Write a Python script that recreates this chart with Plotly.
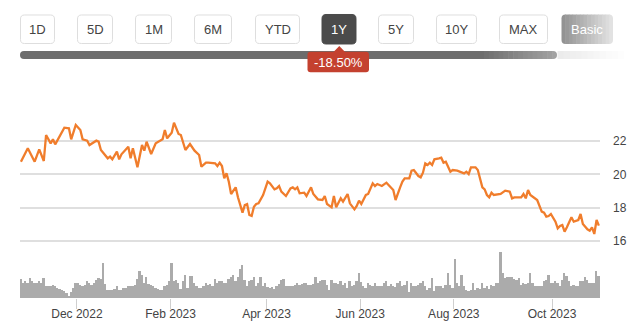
import plotly.graph_objects as go
import pandas as pd

# ---------------------------------------------------------------------------
# Data
# ---------------------------------------------------------------------------
# Closing prices (USD) at the turning points of the past year
price_dates = [
    "2022-10-26", "2022-10-31", "2022-11-03", "2022-11-07", "2022-11-09", "2022-11-10",
    "2022-11-14", "2022-11-15", "2022-11-16", "2022-11-18", "2022-11-22", "2022-11-25",
    "2022-11-28", "2022-11-30", "2022-12-02", "2022-12-05", "2022-12-07", "2022-12-08",
    "2022-12-13", "2022-12-14", "2022-12-15", "2022-12-20", "2022-12-21", "2022-12-22",
    "2022-12-27", "2022-12-28", "2022-12-29", "2023-01-04", "2023-01-05", "2023-01-06",
    "2023-01-10", "2023-01-12", "2023-01-13", "2023-01-17", "2023-01-19", "2023-01-23",
    "2023-01-26", "2023-01-27", "2023-01-30", "2023-02-01", "2023-02-02", "2023-02-06",
    "2023-02-07", "2023-02-09", "2023-02-13", "2023-02-15", "2023-02-17", "2023-02-21",
    "2023-02-23", "2023-02-24", "2023-03-01", "2023-03-02", "2023-03-03", "2023-03-06",
    "2023-03-07", "2023-03-08", "2023-03-09", "2023-03-10", "2023-03-13", "2023-03-14",
    "2023-03-15", "2023-03-16", "2023-03-17", "2023-03-20", "2023-03-21", "2023-03-22",
    "2023-03-23", "2023-03-24", "2023-03-27", "2023-03-28", "2023-03-30", "2023-04-03",
    "2023-04-04", "2023-04-06", "2023-04-10", "2023-04-11", "2023-04-12", "2023-04-14",
    "2023-04-18", "2023-04-19", "2023-04-20", "2023-04-21", "2023-04-24", "2023-04-26",
    "2023-04-27", "2023-05-01", "2023-05-02", "2023-05-04", "2023-05-08", "2023-05-09",
    "2023-05-10", "2023-05-12", "2023-05-15", "2023-05-16", "2023-05-18", "2023-05-19",
    "2023-05-23", "2023-05-24", "2023-05-26", "2023-05-30", "2023-05-31", "2023-06-01",
    "2023-06-05", "2023-06-06", "2023-06-08", "2023-06-09", "2023-06-12", "2023-06-14",
    "2023-06-16", "2023-06-22", "2023-06-23", "2023-06-27", "2023-06-28", "2023-06-29",
    "2023-07-03", "2023-07-05", "2023-07-06", "2023-07-10", "2023-07-11", "2023-07-12",
    "2023-07-13", "2023-07-14", "2023-07-17", "2023-07-18", "2023-07-19", "2023-07-21",
    "2023-07-24", "2023-07-25", "2023-07-26", "2023-07-28", "2023-07-31", "2023-08-02",
    "2023-08-03", "2023-08-07", "2023-08-08", "2023-08-09", "2023-08-10", "2023-08-14",
    "2023-08-15", "2023-08-16", "2023-08-17", "2023-08-18", "2023-08-21", "2023-08-22",
    "2023-08-23", "2023-08-24", "2023-08-29", "2023-08-31", "2023-09-05", "2023-09-06",
    "2023-09-07", "2023-09-12", "2023-09-13", "2023-09-14", "2023-09-15", "2023-09-18",
    "2023-09-20", "2023-09-21", "2023-09-25", "2023-09-26", "2023-09-27", "2023-09-28",
    "2023-09-29", "2023-10-03", "2023-10-04", "2023-10-05", "2023-10-06", "2023-10-09",
    "2023-10-10", "2023-10-12", "2023-10-13", "2023-10-17", "2023-10-18", "2023-10-19",
    "2023-10-23", "2023-10-24", "2023-10-25", "2023-10-26", "2023-10-27", "2023-10-30",
]
price_values = [
    20.76, 21.56, 20.76, 21.50, 20.80, 22.36,
    21.86, 22.10, 21.80, 22.26, 22.80, 22.76,
    22.10, 22.96, 22.66, 22.10, 22.02, 21.76,
    22.02, 21.96, 21.46, 20.96, 21.06, 20.90,
    21.36, 20.90, 21.20, 21.66, 20.96, 21.56,
    20.42, 21.76, 21.42, 21.96, 21.22, 21.86,
    22.10, 22.66, 22.16, 22.50, 23.10, 22.42,
    22.36, 21.46, 21.82, 21.42, 21.16, 20.46,
    20.70, 20.70, 20.66, 20.50, 20.70, 20.50,
    19.76, 20.06, 19.56, 18.82, 19.06, 19.22,
    18.62, 18.16, 17.70, 18.16, 18.22, 17.56,
    17.50, 18.06, 18.22, 18.26, 18.76, 19.56,
    19.46, 19.10, 19.16, 19.30, 18.96, 18.70,
    19.16, 19.22, 19.10, 19.22, 18.86, 18.90,
    18.70, 19.22, 18.82, 18.50, 18.46, 18.70,
    18.22, 18.02, 18.70, 18.02, 18.56, 18.36,
    18.82, 18.26, 17.90, 18.10, 18.42, 18.22,
    18.76, 18.82, 19.46, 19.30, 19.42, 19.30,
    19.50, 19.06, 18.46, 19.22, 19.56, 19.76,
    19.76, 20.22, 20.26, 19.90, 19.82, 20.10,
    20.66, 20.56, 20.70, 20.56, 20.90, 20.96,
    21.00, 20.70, 20.76, 20.16, 20.26, 20.22,
    20.16, 20.06, 20.16, 20.02, 20.42, 20.42,
    20.26, 19.76, 19.22, 19.10, 18.76, 18.62,
    18.90, 18.76, 18.82, 19.02, 18.96, 18.56,
    18.62, 18.62, 18.82, 18.56, 19.06, 18.76,
    18.56, 18.46, 17.76, 17.70, 17.46, 17.50,
    17.62, 17.16, 16.76, 16.90, 16.96, 16.56,
    16.82, 17.42, 17.16, 17.26, 17.62, 17.02,
    16.70, 16.62, 16.82, 16.42, 17.26, 16.92,
]

# Market holidays inside the window (no trading, no bar)
market_holidays = [
    "2022-11-24", "2022-12-26", "2023-01-02", "2023-01-16", "2023-02-20",
    "2023-04-07", "2023-05-29", "2023-06-19", "2023-07-04", "2023-09-04",
]

# Daily traded volume, millions of shares, one value per session
volume_m = [
    6.3, 5.2, 5.6, 5.0, 6.7, 5.6, 5.0, 5.2, 5.9, 5.2,
    6.7, 3.9, 4.1, 3.9, 4.4, 3.9, 3.3, 3.0, 2.8, 2.2,
    1.7, 0.8, 1.9, 3.3, 5.0, 5.2, 4.4, 3.9, 4.4, 5.6,
    5.0, 4.4, 5.2, 6.1, 6.7, 6.3, 11.9, 4.7, 2.8, 2.8,
    2.6, 3.0, 4.1, 2.8, 2.6, 3.3, 3.3, 3.9, 3.9, 4.1,
    4.4, 6.3, 9.2, 7.8, 5.0, 7.2, 4.8, 4.4, 3.9, 3.3,
    3.0, 2.6, 2.8, 3.9, 4.4, 5.6, 11.9, 5.6, 6.1, 5.0,
    3.0, 5.6, 7.8, 3.3, 7.4, 7.4, 5.0, 3.9, 3.3, 3.3,
    3.9, 5.2, 4.4, 4.8, 3.9, 6.3, 5.0, 5.6, 5.6, 5.0,
    5.0, 6.3, 7.0, 7.8, 5.6, 7.2, 9.7, 11.1, 6.1, 3.9,
    5.6, 6.1, 7.0, 3.9, 5.0, 7.0, 3.9, 5.0, 3.7, 3.3,
    3.7, 3.0, 3.9, 4.8, 6.1, 6.3, 3.9, 3.9, 4.1, 4.1,
    4.4, 5.0, 4.4, 4.8, 5.2, 5.0, 4.4, 4.4, 4.8, 7.2,
    5.0, 5.9, 6.1, 6.1, 4.4, 2.8, 6.1, 5.0, 5.2, 4.8,
    5.9, 4.4, 5.2, 3.3, 5.6, 3.9, 4.4, 5.6, 8.6, 5.4,
    3.9, 3.3, 5.2, 4.4, 3.9, 5.2, 4.1, 3.9, 3.9, 5.0,
    5.6, 3.9, 4.8, 4.1, 3.7, 5.0, 5.9, 3.9, 4.4, 5.6,
    1.9, 5.0, 3.9, 3.9, 4.4, 5.0, 5.6, 3.9, 2.8, 3.3,
    6.7, 2.2, 4.1, 3.9, 4.1, 3.3, 4.4, 8.3, 4.4, 3.3,
    13.3, 5.0, 3.9, 7.8, 3.9, 2.8, 2.2, 2.6, 5.0, 2.8,
    3.3, 3.0, 5.0, 3.3, 3.9, 3.0, 4.4, 3.9, 5.0, 5.2,
    15.6, 8.3, 6.7, 7.2, 7.0, 7.2, 6.3, 6.1, 6.7, 4.4,
    5.0, 4.8, 5.0, 8.3, 5.0, 3.9, 4.1, 3.9, 4.1, 5.6,
    6.1, 7.8, 5.2, 5.0, 5.6, 5.0, 3.9, 6.1, 8.6, 7.4,
    5.6, 3.9, 4.4, 3.9, 4.1, 5.6, 5.6, 7.2, 6.1, 5.2,
    5.0, 5.0, 9.2, 7.4,
]

# Axis labels
price_ticks = [16, 18, 20, 22]
month_tick_dates = ["2022-12-01", "2023-02-01", "2023-04-03", "2023-06-01", "2023-08-01", "2023-10-02"]
month_tick_labels = ["Dec 2022", "Feb 2023", "Apr 2023", "Jun 2023", "Aug 2023", "Oct 2023"]

# Period selector
period_labels = ["1D", "5D", "1M", "6M", "YTD", "1Y", "5Y", "10Y", "MAX"]
active_period = "1Y"

# ---------------------------------------------------------------------------
# Derived series
# ---------------------------------------------------------------------------
sessions = pd.bdate_range("2022-10-26", "2023-10-30")
sessions = sessions[~sessions.isin(pd.to_datetime(market_holidays))]
session_mid = sessions + pd.Timedelta(hours=12)
price_x = pd.to_datetime(price_dates) + pd.Timedelta(hours=12)

change_pct = (price_values[-1] / price_values[0] - 1.0) * 100.0
change_text = f"{change_pct:+.2f}%"

# ---------------------------------------------------------------------------
# Geometry helpers (pixel -> paper)
# ---------------------------------------------------------------------------
W, H = 640, 329
ML, MR, MT, MB = 20, 40, 80, 31
PW = W - ML - MR
PH = H - MT - MB
FONT = "Liberation Sans, Arial, Helvetica, sans-serif"


def px(x):
    return (x - ML) / PW


def py(y):
    return (H - MB - y) / PH


def rounded_path(x0, y0, x1, y1, rl, rr):
    pts = [
        ("M", (x0 + rl, y0)), ("L", (x1 - rr, y0)),
        ("Q", (x1, y0), (x1, y0 + rr)), ("L", (x1, y1 - rr)),
        ("Q", (x1, y1), (x1 - rr, y1)), ("L", (x0 + rl, y1)),
        ("Q", (x0, y1), (x0, y1 - rl)), ("L", (x0, y0 + rl)),
        ("Q", (x0, y0), (x0 + rl, y0)),
    ]
    out = []
    for item in pts:
        cmd = item[0]
        coords = " ".join(f"{px(a):.5f},{py(b):.5f}" for a, b in item[1:])
        out.append(f"{cmd}{coords}")
    return " ".join(out) + " Z"


def hex_mix(c0, c1, t):
    a = [int(c0[i:i + 2], 16) for i in (1, 3, 5)]
    b = [int(c1[i:i + 2], 16) for i in (1, 3, 5)]
    return "#" + "".join(f"{round(u + (v - u) * t):02x}" for u, v in zip(a, b))


shapes = []


def add_path(path, fill, line_color=None, line_width=0):
    shapes.append(dict(
        type="path", xref="paper", yref="paper", path=path,
        fillcolor=fill,
        line=dict(color=line_color or fill, width=line_width),
        layer="above",
    ))


def add_gradient(x0, y0, x1, y1, c0, c1, n, rl=0, rr=0):
    step = (x1 - x0) / n
    for i in range(n):
        a = x0 + i * step
        b = min(x1, a + step + 0.6)
        add_path(rounded_path(a, y0, b, y1,
                              rl if i == 0 else 0,
                              rr if i == n - 1 else 0),
                 hex_mix(c0, c1, i / max(n - 1, 1)))


annotations = []


def add_text(x, y, text, color, size=13):
    annotations.append(dict(
        xref="paper", yref="paper", x=px(x), y=py(y), text=text,
        showarrow=False, xanchor="center", yanchor="middle",
        font=dict(family=FONT, size=size, color=color),
    ))


# ---------------------------------------------------------------------------
# Period buttons
# ---------------------------------------------------------------------------
button_spans = [(20, 55), (77, 113), (135, 172), (194, 232), (255, 300),
                (322, 356), (378, 414), (436, 477), (499, 548)]
BTN_TOP, BTN_BOT = 14.5, 44
for label, (bx0, bx1) in zip(period_labels, button_spans):
    if label == active_period:
        add_path(rounded_path(bx0, BTN_TOP, bx1, BTN_BOT, 4, 4), "#4b4b4b", "#4b4b4b", 1)
        add_text((bx0 + bx1) / 2, (BTN_TOP + BTN_BOT) / 2 + 0.5, label, "#ffffff")
    else:
        add_path(rounded_path(bx0 + 0.5, BTN_TOP + 0.5, bx1 - 0.5, BTN_BOT - 0.5, 4, 4),
                 "#ffffff", "#dedede", 1)
        add_text((bx0 + bx1) / 2, (BTN_TOP + BTN_BOT) / 2 + 0.5, label, "#444444")

# "Basic" toggle with a fading grey fill
add_gradient(561.5, BTN_TOP, 613, BTN_BOT, "#939393", "#e2e2e2", 14, rl=4, rr=4)
add_text(587, (BTN_TOP + BTN_BOT) / 2 + 0.5, "Basic", "#ffffff")

# Range track under the buttons
add_path(rounded_path(20, 51, 480, 59, 4, 0), "#6d6d6d")
add_gradient(479, 51, 557, 59, "#6d6d6d", "#a2a2a2", 16, rl=0, rr=4)
add_gradient(557.5, 51, 630, 59, "#ebebeb", "#ffffff", 12)

# Change badge under the active button
add_path(f"M{px(333):.5f},{py(52.5):.5f} L{px(339.3):.5f},{py(46):.5f} "
         f"L{px(345.6):.5f},{py(52.5):.5f} Z", "#c4412f")
add_path(rounded_path(307.5, 51.8, 369, 72.3, 3, 3), "#c4412f")
add_text(338.3, 62.5, change_text, "#ffffff")

# ---------------------------------------------------------------------------
# Figure
# ---------------------------------------------------------------------------
fig = go.Figure()

fig.add_trace(go.Bar(
    x=session_mid, y=volume_m, xaxis="x", yaxis="y2",
    marker=dict(color="#ababab", line=dict(width=0)),
    width=0.78 * 86400000, hoverinfo="skip",
))

fig.add_trace(go.Scatter(
    x=price_x, y=price_values, xaxis="x", yaxis="y", mode="lines",
    line=dict(color="#f07d2c", width=2.3),
    hoverinfo="skip",
))

price_bottom_frac = (H - MB - 244) / PH
vol_top_frac = (H - MB - 250) / PH

fig.update_layout(
    width=W, height=H,
    margin=dict(l=ML, r=MR, t=MT, b=MB, pad=0, autoexpand=False),
    paper_bgcolor="#ffffff", plot_bgcolor="#ffffff",
    showlegend=False, bargap=0,
    font=dict(family=FONT, color="#444444"),
    xaxis=dict(
        type="date",
        range=["2022-10-26 02:00", "2023-10-31 00:00"],
        rangebreaks=[dict(bounds=["sat", "mon"]), dict(values=market_holidays)],
        tickvals=month_tick_dates, ticktext=month_tick_labels,
        ticks="outside", ticklen=10, tickwidth=1, tickcolor="#cfcfcf",
        ticklabelstandoff=-5,
        tickfont=dict(size=12, color="#444444", family=FONT),
        showgrid=False, zeroline=False, showline=False,
        anchor="y2", automargin=False,
    ),
    yaxis=dict(
        domain=[price_bottom_frac, 1.0],
        range=[15.82, 25.66],
        side="right", anchor="x",
        tickvals=price_ticks,
        tickfont=dict(size=12, color="#444444", family=FONT),
        ticklabelstandoff=12,
        showgrid=True, gridcolor="#dfdfdf", gridwidth=1.5,
        zeroline=False, showline=False, automargin=False,
    ),
    yaxis2=dict(
        domain=[0.0, vol_top_frac],
        range=[0, 16.2],
        anchor="x",
        showticklabels=False, showgrid=False, zeroline=False, showline=False,
        automargin=False,
    ),
    shapes=shapes,
    annotations=annotations,
)

fig.write_html("out.html")
